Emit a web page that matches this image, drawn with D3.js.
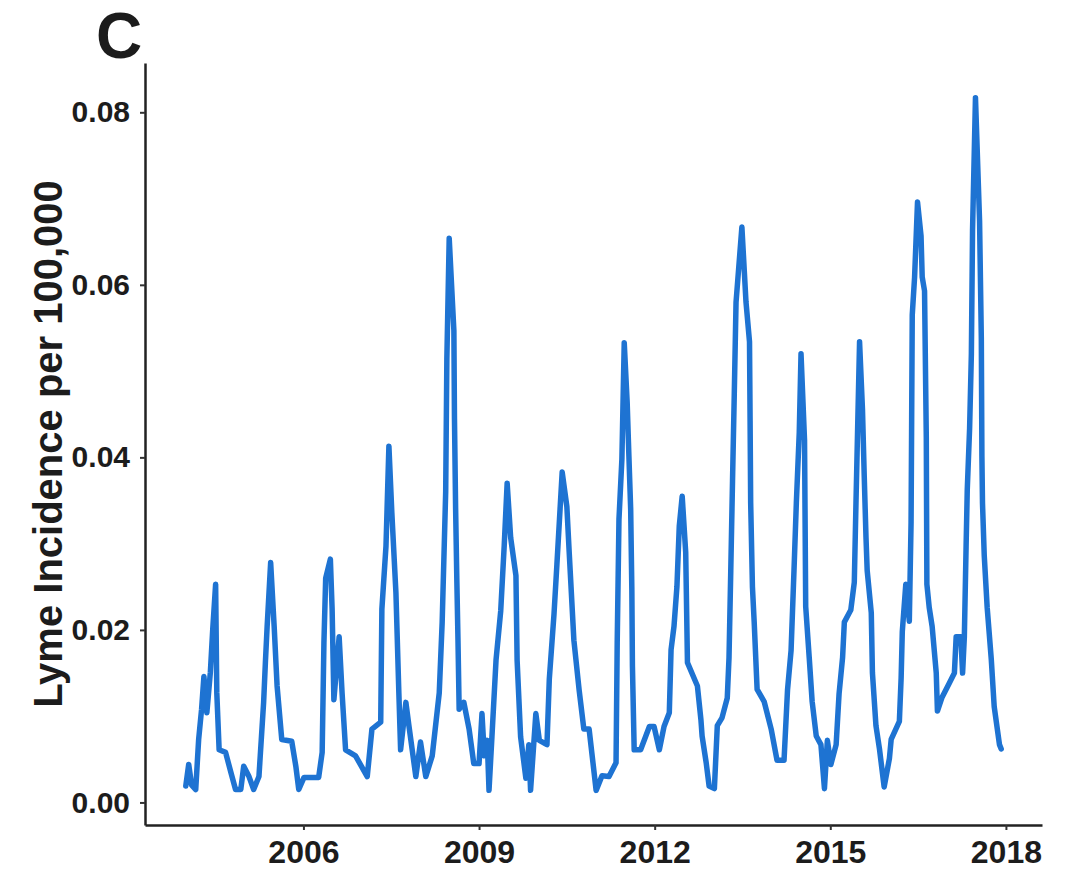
<!DOCTYPE html>
<html>
<head>
<meta charset="utf-8">
<script src="https://cdn.jsdelivr.net/npm/d3@7"></script>
<style>
  html, body { margin: 0; padding: 0; background: #ffffff; }
  svg { display: block; }
  text { font-family: "Liberation Sans", Arial, sans-serif; font-weight: bold; fill: #1c1c1c; }
</style>
</head>
<body>
<svg id="chart" width="1066" height="874"></svg>
<script>
// ---- data (decimal year, incidence per 100,000) ----
const years = [
  2003.99, 2004.04, 2004.09, 2004.16, 2004.21, 2004.26, 2004.30, 2004.35, 2004.41, 2004.45,
  2004.50, 2004.52, 2004.56, 2004.67, 2004.76, 2004.84, 2004.93, 2004.98, 2005.07, 2005.15,
  2005.24, 2005.32, 2005.35, 2005.38, 2005.44, 2005.50, 2005.55, 2005.63, 2005.80, 2005.87,
  2005.92, 2006.01, 2006.26, 2006.32, 2006.35, 2006.38, 2006.46, 2006.49, 2006.52, 2006.61,
  2006.66, 2006.72, 2006.89, 2007.09, 2007.17, 2007.32, 2007.34, 2007.41, 2007.46, 2007.51,
  2007.58, 2007.63, 2007.66, 2007.75, 2007.80, 2007.92, 2008.00, 2008.09, 2008.20, 2008.32,
  2008.37, 2008.43, 2008.45, 2008.49, 2008.57, 2008.58, 2008.60, 2008.62, 2008.64, 2008.66,
  2008.74, 2008.83, 2008.91, 2009.00, 2009.05, 2009.09, 2009.14, 2009.17, 2009.22, 2009.29,
  2009.37, 2009.43, 2009.48, 2009.54, 2009.63, 2009.65, 2009.71, 2009.80, 2009.85, 2009.88,
  2009.97, 2010.03, 2010.16, 2010.20, 2010.28, 2010.33, 2010.42, 2010.50, 2010.54, 2010.62,
  2010.71, 2010.79, 2010.88, 2011.00, 2011.10, 2011.22, 2011.34, 2011.36, 2011.39, 2011.44,
  2011.48, 2011.53, 2011.56, 2011.59, 2011.61, 2011.62, 2011.65, 2011.76, 2011.91, 2011.99,
  2012.08, 2012.16, 2012.25, 2012.28, 2012.33, 2012.38, 2012.42, 2012.47, 2012.53, 2012.56,
  2012.73, 2012.79, 2012.81, 2012.88, 2012.93, 2013.02, 2013.07, 2013.15, 2013.24, 2013.27,
  2013.30, 2013.33, 2013.36, 2013.39, 2013.49, 2013.56, 2013.62, 2013.63, 2013.64, 2013.67,
  2013.70, 2013.75, 2013.87, 2013.99, 2014.09, 2014.21, 2014.27, 2014.33, 2014.38, 2014.42,
  2014.47, 2014.50, 2014.56, 2014.57, 2014.58, 2014.64, 2014.69, 2014.76, 2014.84, 2014.90,
  2014.95, 2015.01, 2015.10, 2015.15, 2015.21, 2015.24, 2015.35, 2015.41, 2015.44, 2015.50,
  2015.55, 2015.58, 2015.61, 2015.63, 2015.70, 2015.72, 2015.78, 2015.84, 2015.92, 2016.01,
  2016.04, 2016.18, 2016.21, 2016.23, 2016.29, 2016.35, 2016.38, 2016.39, 2016.40, 2016.44,
  2016.49, 2016.55, 2016.57, 2016.61, 2016.64, 2016.65, 2016.69, 2016.74, 2016.81, 2016.83,
  2016.91, 2017.03, 2017.12, 2017.15, 2017.23, 2017.26, 2017.29, 2017.32, 2017.34, 2017.38,
  2017.41, 2017.43, 2017.48, 2017.55, 2017.58, 2017.59, 2017.60, 2017.63, 2017.68, 2017.75,
  2017.80, 2017.89, 2017.92
];
const incidence = [
  0.0019, 0.0044, 0.0020, 0.0015, 0.0073, 0.0108, 0.0146, 0.0104, 0.0151, 0.0200,
  0.0253, 0.0127, 0.0061, 0.0058, 0.0035, 0.0015, 0.0015, 0.0042, 0.0030, 0.0015,
  0.0030, 0.0116, 0.0162, 0.0204, 0.0278, 0.0204, 0.0135, 0.0073, 0.0071, 0.0042,
  0.0015, 0.0029, 0.0029, 0.0058, 0.0185, 0.0260, 0.0282, 0.0224, 0.0119, 0.0192,
  0.0127, 0.0061, 0.0054, 0.0030, 0.0085, 0.0093, 0.0224, 0.0297, 0.0413, 0.0336,
  0.0243, 0.0127, 0.0061, 0.0116, 0.0090, 0.0030, 0.0070, 0.0030, 0.0054, 0.0127,
  0.0209, 0.0360, 0.0514, 0.0654, 0.0547, 0.0445, 0.0339, 0.0259, 0.0188, 0.0108,
  0.0116, 0.0085, 0.0045, 0.0045, 0.0103, 0.0054, 0.0072, 0.0014, 0.0076, 0.0165,
  0.0222, 0.0298, 0.0370, 0.0307, 0.0263, 0.0165, 0.0076, 0.0028, 0.0067, 0.0014,
  0.0103, 0.0072, 0.0067, 0.0143, 0.0218, 0.0276, 0.0383, 0.0343, 0.0290, 0.0188,
  0.0130, 0.0085, 0.0085, 0.0014, 0.0031, 0.0030, 0.0046, 0.0185, 0.0328, 0.0398,
  0.0533, 0.0464, 0.0401, 0.0340, 0.0247, 0.0158, 0.0061, 0.0061, 0.0088, 0.0088,
  0.0061, 0.0088, 0.0104, 0.0177, 0.0204, 0.0250, 0.0320, 0.0355, 0.0290, 0.0162,
  0.0135, 0.0096, 0.0077, 0.0046, 0.0019, 0.0016, 0.0089, 0.0098, 0.0121, 0.0168,
  0.0269, 0.0373, 0.0474, 0.0580, 0.0667, 0.0580, 0.0534, 0.0443, 0.0347, 0.0250,
  0.0209, 0.0131, 0.0117, 0.0085, 0.0049, 0.0049, 0.0131, 0.0176, 0.0269, 0.0347,
  0.0429, 0.0520, 0.0420, 0.0323, 0.0227, 0.0168, 0.0117, 0.0077, 0.0067, 0.0016,
  0.0072, 0.0044, 0.0067, 0.0126, 0.0168, 0.0209, 0.0223, 0.0255, 0.0351, 0.0534,
  0.0455, 0.0378, 0.0307, 0.0269, 0.0220, 0.0150, 0.0089, 0.0062, 0.0018, 0.0051,
  0.0073, 0.0094, 0.0144, 0.0198, 0.0253, 0.0210, 0.0325, 0.0444, 0.0565, 0.0609,
  0.0696, 0.0657, 0.0609, 0.0593, 0.0423, 0.0253, 0.0226, 0.0204, 0.0150, 0.0106,
  0.0122, 0.0138, 0.0150, 0.0192, 0.0192, 0.0150, 0.0192, 0.0297, 0.0363, 0.0434,
  0.0520, 0.0663, 0.0817, 0.0674, 0.0538, 0.0401, 0.0347, 0.0286, 0.0226, 0.0166,
  0.0111, 0.0067, 0.0062
];
const xTickValues = [2006, 2009, 2012, 2015, 2018];
const yTickValues = [0.00, 0.02, 0.04, 0.06, 0.08];
const yTitle = "Lyme Incidence per 100,000";
const panelLabel = "C";

// ---- layout ----
const svg = d3.select("#chart");
const mLeft = 145, mRight = 1042, mTop = 63, mBottom = 825;

function expand(ext, f) { const d = (ext[1] - ext[0]) * f; return [ext[0] - d, ext[1] + d]; }

const x = d3.scaleLinear().domain(expand(d3.extent(years), 0.05)).range([mLeft, mRight]);
const y = d3.scaleLinear().domain(expand(d3.extent(incidence), 0.05)).range([mBottom, mTop]);

const data = years.map((t, i) => ({ t, v: incidence[i] }));

// line
svg.append("path")
  .datum(data)
  .attr("fill", "none")
  .attr("stroke", "#1e73d2")
  .attr("stroke-width", 5.5)
  .attr("stroke-linejoin", "round")
  .attr("stroke-linecap", "round")
  .attr("d", d3.line().x(d => x(d.t)).y(d => y(d.v)));

// x axis
const xAxis = svg.append("g")
  .attr("transform", `translate(0,${mBottom})`)
  .call(d3.axisBottom(x).tickValues(xTickValues).tickFormat(d3.format("d")).tickSize(5).tickSizeOuter(0).tickPadding(10));
xAxis.select(".domain").attr("stroke", "#222").attr("stroke-width", 2.5);
xAxis.selectAll(".tick line").attr("stroke", "#333").attr("stroke-width", 2);
xAxis.selectAll(".tick text").attr("font-size", 32).attr("fill", "#1c1c1c")
  .attr("font-family", "Liberation Sans, Arial, sans-serif").attr("font-weight", "bold");

// y axis
const yAxis = svg.append("g")
  .attr("transform", `translate(${mLeft},0)`)
  .call(d3.axisLeft(y).tickValues(yTickValues).tickFormat(d3.format(".2f")).tickSize(5).tickSizeOuter(0).tickPadding(10));
yAxis.select(".domain").attr("stroke", "#222").attr("stroke-width", 2.5);
yAxis.selectAll(".tick line").attr("stroke", "#333").attr("stroke-width", 2);
yAxis.selectAll(".tick text").attr("font-size", 30).attr("fill", "#1c1c1c")
  .attr("font-family", "Liberation Sans, Arial, sans-serif").attr("font-weight", "bold");

// y title
svg.append("text")
  .attr("transform", `translate(62,${(mTop + mBottom) / 2}) rotate(-90)`)
  .attr("text-anchor", "middle")
  .attr("font-size", 40)
  .text(yTitle);

// panel label
svg.append("text")
  .attr("x", 96)
  .attr("y", 58)
  .attr("font-size", 64)
  .text(panelLabel);
</script>
</body>
</html>
